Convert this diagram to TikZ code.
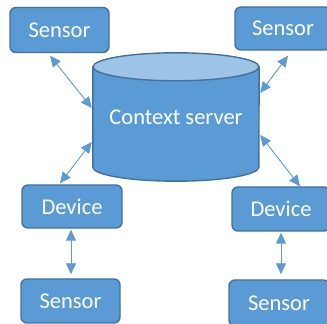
\documentclass[tikz,border=0pt]{standalone}
\usepackage{fontspec}
\setmainfont{Carlito}
\usetikzlibrary{arrows.meta}
\definecolor{boxblue}{HTML}{5B9BD5}
\definecolor{edgeblue}{HTML}{41719C}
\definecolor{topblue}{HTML}{9DC3E6}
\tikzset{
  unit/.style={draw=edgeblue, line width=1.4pt, fill=boxblue, rounded corners=6pt,
    text=white, font=\fontsize{22.5}{26}\selectfont, inner sep=0pt},
  link/.style={draw=boxblue, line width=0.9pt,
    {Triangle[length=11pt,width=10pt]}-{Triangle[length=11pt,width=10pt]}},
  drum/.style={draw=edgeblue, line width=1.4pt, fill=boxblue},
}
\begin{document}
\begin{tikzpicture}[x=1pt,y=1pt]
\useasboundingbox (0,0) rectangle (327,324);

% sensors and devices
\node[unit, minimum width=99pt, minimum height=45pt] (s1) at (59.5,294) {Sensor};
\node[unit, minimum width=96pt, minimum height=43pt] (s2) at (283,295.5) {Sensor};
\node[unit, minimum width=100pt, minimum height=43pt] (d1) at (72,117.5) {Device};
\node[unit, minimum width=98pt, minimum height=44pt] (d2) at (281,115) {Device};
\node[unit, minimum width=99pt, minimum height=44pt] (s3) at (70.5,23) {Sensor};
\node[unit, minimum width=100pt, minimum height=46pt] (s4) at (279,21) {Sensor};

% context server drum
\node[minimum width=166pt, minimum height=100pt, inner sep=0pt] (cyl) at (176,207) {};
\path[drum] (cyl.north west) -- (cyl.south west)
  arc[start angle=180, end angle=360, x radius=83pt, y radius=14pt]
  -- (cyl.north east) -- cycle;
\path[drum, fill=topblue] (cyl.north) ellipse[x radius=83pt, y radius=14pt];
\node[text=white, font=\fontsize{22.5}{26}\selectfont] at (cyl.center) {Context server};

% links
\draw[link] ([xshift=-9.5pt,yshift=-2.5pt]s1.south) -- ([xshift=-1pt,yshift=9pt]cyl.west);
\draw[link] ([xshift=5pt,yshift=-5pt]s2.south) -- ([xshift=1pt,yshift=24pt]cyl.east);
\draw[link] ([xshift=-1pt,yshift=-25pt]cyl.west) -- ([xshift=-12pt,yshift=1pt]d1.north);
\draw[link] ([xshift=1pt,yshift=-18pt]cyl.east) -- ([xshift=19pt]d2.north);
\draw[link] ([xshift=-1pt,yshift=-1pt]d1.south) -- ([xshift=0.5pt,yshift=4pt]s3.north);
\draw[link] ([yshift=-1pt]d2.south) -- ([xshift=2pt,yshift=5pt]s4.north);
\end{tikzpicture}
\end{document}
